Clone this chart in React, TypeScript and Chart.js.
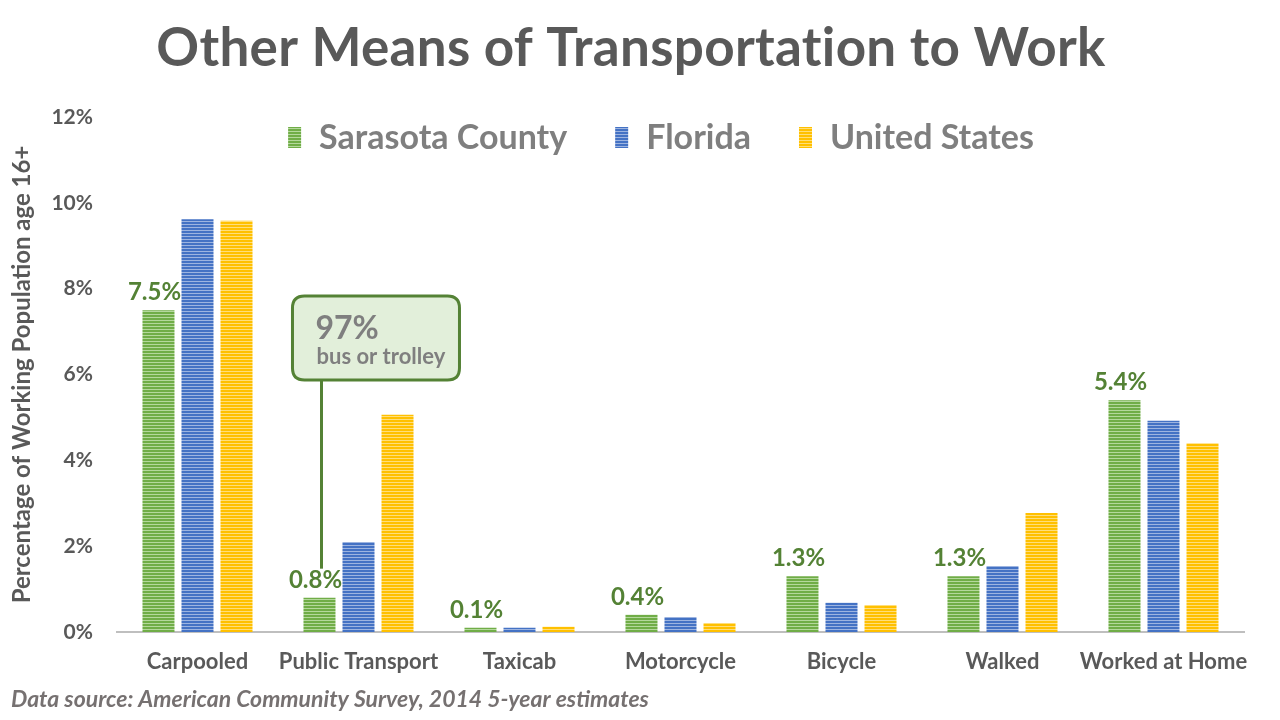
import React, { useEffect, useRef } from "react";
import { Chart, registerables } from "chart.js";

Chart.register(...registerables);

const categories = ["Carpooled", "Public Transport", "Taxicab", "Motorcycle", "Bicycle", "Walked", "Worked at Home"];
const sarasota = [7.5, 0.8, 0.1, 0.4, 1.3, 1.3, 5.4];
const florida = [9.62, 2.1, 0.1, 0.35, 0.68, 1.54, 4.92];
const unitedStates = [9.58, 5.06, 0.12, 0.21, 0.63, 2.77, 4.4];
const seriesNames = ["Sarasota County", "Florida", "United States"];
const yTicks = [0, 2, 4, 6, 8, 10, 12];

const FONT = "Lato, 'Open Sans', sans-serif";
const GRAY = "#595959";
const LGRAY = "#7f7f7f";
const GREEN_TXT = "#548235";

function stripes(base: string, light: string): CanvasPattern | string {
  const c = document.createElement("canvas");
  c.width = 4;
  c.height = 3;
  const x = c.getContext("2d");
  if (!x) return base;
  x.fillStyle = base;
  x.fillRect(0, 0, 4, 2);
  x.fillStyle = light;
  x.fillRect(0, 2, 4, 1);
  return x.createPattern(c, "repeat") || base;
}

function roundRect(ctx: CanvasRenderingContext2D, x: number, y: number, w: number, h: number, r: number) {
  ctx.beginPath();
  ctx.moveTo(x + r, y);
  ctx.lineTo(x + w - r, y);
  ctx.quadraticCurveTo(x + w, y, x + w, y + r);
  ctx.lineTo(x + w, y + h - r);
  ctx.quadraticCurveTo(x + w, y + h, x + w - r, y + h);
  ctx.lineTo(x + r, y + h);
  ctx.quadraticCurveTo(x, y + h, x, y + h - r);
  ctx.lineTo(x, y + r);
  ctx.quadraticCurveTo(x, y, x + r, y);
  ctx.closePath();
}

const overlay = {
  id: "overlay",
  afterDatasetsDraw(chart: any) {
    const ctx: CanvasRenderingContext2D = chart.ctx;
    const yScale = chart.scales.y;
    const meta = chart.getDatasetMeta(0);
    ctx.save();
    // data labels for Sarasota County
    ctx.font = `bold 24px ${FONT}`;
    ctx.fillStyle = GREEN_TXT;
    ctx.textAlign = "center";
    ctx.textBaseline = "alphabetic";
    meta.data.forEach((bar: any, i: number) => {
      ctx.fillText(`${sarasota[i]}%`, bar.x - 4, bar.y - 10);
    });

    // callout for public transport
    const pt = meta.data[1];
    const lx = pt.x + 2;
    const boxTop = yScale.getPixelForValue(7.83);
    const boxBottom = yScale.getPixelForValue(5.87);
    const lineEnd = pt.y - 29;
    ctx.strokeStyle = GREEN_TXT;
    ctx.lineWidth = 3;
    ctx.beginPath();
    ctx.moveTo(lx, boxBottom);
    ctx.lineTo(lx, lineEnd);
    ctx.stroke();
    roundRect(ctx, lx - 29, boxTop, 167, boxBottom - boxTop, 12);
    ctx.fillStyle = "#e2efda";
    ctx.fill();
    ctx.stroke();
    ctx.fillStyle = LGRAY;
    ctx.textAlign = "left";
    ctx.textBaseline = "middle";
    ctx.font = `bold 32px ${FONT}`;
    ctx.fillText("97%", lx - 6, boxTop + 33);
    ctx.font = `bold 22px ${FONT}`;
    ctx.fillText("bus or trolley", lx - 5, boxTop + 61);
    ctx.restore();
  },
  afterDraw(chart: any) {
    const ctx: any = chart.ctx;
    ctx.save();
    // title
    ctx.fillStyle = GRAY;
    ctx.font = `bold 53px ${FONT}`;
    ctx.textAlign = "center";
    ctx.textBaseline = "middle";
    ctx.letterSpacing = "0.3px";
    ctx.fillText("Other Means of Transportation to Work", 631, 49);
    ctx.letterSpacing = "0px";

    // legend
    ctx.font = `bold 34px ${FONT}`;
    const boxW = 13;
    const gapBox = 18;
    const gapItem = 48;
    const widths = seriesNames.map((n) => ctx.measureText(n).width);
    const total = widths.reduce((a: number, w: number) => a + boxW + gapBox + w, 0) + gapItem * (seriesNames.length - 1);
    let x = 661 - total / 2;
    const ly = 137;
    ctx.textAlign = "left";
    seriesNames.forEach((n, i) => {
      ctx.fillStyle = chart.data.datasets[i].backgroundColor;
      ctx.fillRect(x, ly - 10, boxW, 21);
      x += boxW + gapBox;
      ctx.fillStyle = LGRAY;
      ctx.fillText(n, x, ly + 1);
      x += widths[i] + gapItem;
    });

    // source
    ctx.font = `italic bold 23px ${FONT}`;
    ctx.fillStyle = "#767171";
    ctx.textAlign = "left";
    ctx.fillText("Data source: American Community Survey, 2014 5-year estimates", 11, 700);
    ctx.restore();
  },
};

export default function App() {
  const ref = useRef<HTMLCanvasElement | null>(null);
  useEffect(() => {
    document.body.style.margin = "0";
    if (!ref.current) return;
    const green = stripes("#70ad47", "#b4d89c");
    const blue = stripes("#4472c4", "#9db4e0");
    const yellow = stripes("#ffc000", "#ffde7a");
    const chart = new Chart(ref.current, {
      type: "bar",
      data: {
        labels: categories,
        datasets: [
          { label: seriesNames[0], data: sarasota, backgroundColor: green as any, borderWidth: 0 },
          { label: seriesNames[1], data: florida, backgroundColor: blue as any, borderWidth: 0 },
          { label: seriesNames[2], data: unitedStates, backgroundColor: yellow as any, borderWidth: 0 },
        ],
      },
      options: {
        responsive: false,
        animation: false,
        events: [],
        layout: { padding: { top: 117, left: 4, right: 36, bottom: 0 } },
        datasets: { bar: { categoryPercentage: 0.727, barPercentage: 0.82 } },
        plugins: { legend: { display: false }, title: { display: false }, tooltip: { enabled: false } },
        scales: {
          x: {
            grid: { display: false, drawTicks: false },
            border: { display: true, color: "#bfbfbf", width: 2 },
            ticks: { font: { family: FONT, size: 22, weight: "bold" }, color: GRAY, padding: 17, maxRotation: 0, autoSkip: false },
            afterFit: (s: any) => { s.height = 88; },
          },
          y: {
            min: 0,
            max: 12,
            afterBuildTicks: (s: any) => { s.ticks = yTicks.map((v) => ({ value: v })); },
            grid: { display: false, drawTicks: false },
            border: { display: false },
            ticks: { callback: (v: any) => `${v}%`, font: { family: FONT, size: 21, weight: "bold" }, color: GRAY, padding: 24 },
            title: {
              display: true,
              text: "Percentage of Working Population age 16+",
              font: { family: FONT, size: 24, weight: "bold" },
              color: GRAY,
              padding: { top: 4, bottom: 4 },
            },
            afterFit: (s: any) => { s.width = 113; },
          },
        },
      },
      plugins: [overlay],
    });
    return () => chart.destroy();
  }, []);
  return <canvas ref={ref} width={1280} height={720} style={{ display: "block" }} />;
}
